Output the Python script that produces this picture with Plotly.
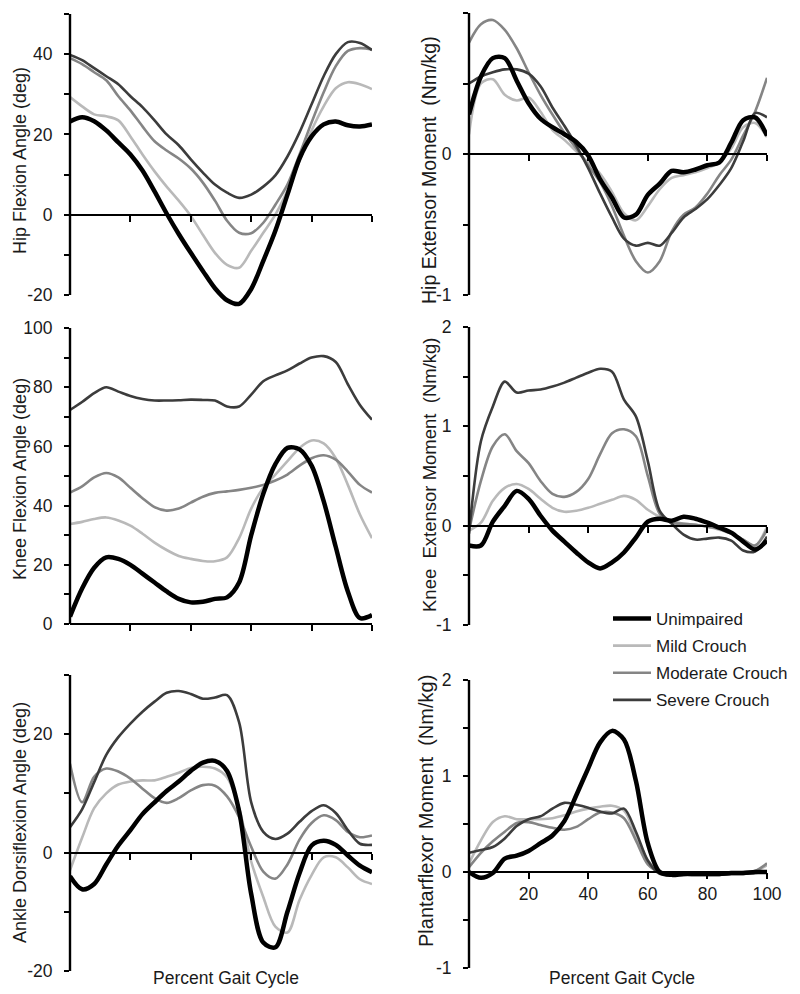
import plotly.graph_objects as go

# ---------------- data ----------------
PCT = list(range(0, 101, 4))  # percent gait cycle sample points

SERIES = ["Unimpaired", "Mild Crouch", "Moderate Crouch", "Severe Crouch"]

# Hip flexion angle (deg)
HIP_ANG_UNIMP = [23.2, 24.3, 23.3, 21, 18, 15, 11, 5.8, 0.3, -4.8, -9.5, -14, -18.3, -21.3,
                 -22.2, -18.5, -11.5, -4, 5, 14, 19.5, 22.5, 23.2, 22.3, 22, 22.5]
HIP_ANG_MILD = [29.3, 27, 25, 24.5, 23.5, 19.5, 15, 10.8, 7, 3.5, -0.3, -5, -9.5, -12.5,
                -13.2, -9, -4.5, 0, 6, 13.5, 21, 27, 31.5, 33, 32.5, 31.3]
HIP_ANG_MOD = [39, 37.5, 35.5, 33.5, 29.5, 26, 22, 18.3, 16, 14, 11.5, 8, 3.5, -1.5,
               -4.5, -4.6, -2, 2.5, 7.5, 15, 23, 30.5, 37, 40.8, 41.5, 41.2]
HIP_ANG_SEV = [39.8, 38.5, 36.5, 34.5, 32.5, 29.5, 26.8, 23.5, 20, 17.3, 13.8, 10.5, 7.5, 5.5,
               4.2, 5, 7, 9.8, 14.5, 20.5, 27.5, 34.5, 40, 43, 42.8, 41]

# Hip extensor moment (Nm/kg)
HIP_MOM_UNIMP = [0.28, 0.55, 0.68, 0.68, 0.52, 0.36, 0.25, 0.19, 0.14, 0.085, -0.01, -0.18, -0.31,
                 -0.45, -0.43, -0.29, -0.21, -0.12, -0.13, -0.11, -0.08, -0.06, 0.08, 0.24, 0.26, 0.13]
HIP_MOM_MILD = [0.14, 0.5, 0.53, 0.42, 0.38, 0.4, 0.3, 0.17, 0.1, 0.02, -0.06, -0.14, -0.27,
                -0.42, -0.47, -0.37, -0.25, -0.17, -0.15, -0.13, -0.1, -0.06, 0.04, 0.19, 0.22, 0.12]
HIP_MOM_MOD = [0.79, 0.92, 0.95, 0.88, 0.75, 0.58, 0.42, 0.28, 0.15, 0.04, -0.08, -0.2, -0.37,
               -0.58, -0.76, -0.84, -0.76, -0.55, -0.43, -0.38, -0.28, -0.15, -0.04, 0.13, 0.3, 0.54]
HIP_MOM_SEV = [0.5, 0.55, 0.58, 0.6, 0.6, 0.57, 0.48, 0.33, 0.2, 0.06, -0.1, -0.28, -0.45,
               -0.6, -0.65, -0.63, -0.65, -0.56, -0.45, -0.39, -0.32, -0.22, -0.1, 0.09, 0.29, 0.26]

# Knee flexion angle (deg)
KNEE_ANG_UNIMP = [2.5, 12, 19, 22.5, 22, 20, 17, 14, 11, 8.5, 7.3, 7.5, 8.5, 9, 14, 30, 44, 54,
                  59.5, 59, 53.5, 41.5, 26, 11, 2, 3]
KNEE_ANG_MILD = [33.8, 34.5, 35.5, 36, 35, 33.2, 30.5, 27.5, 25, 23, 22, 21.3, 21.2, 22.5, 29, 39,
                 46, 50.5, 55, 59.5, 62, 61, 56, 47, 37, 29]
KNEE_ANG_MOD = [44.4, 46.5, 49.5, 51, 49.5, 46, 42.5, 39.5, 38.3, 39, 41, 43, 44.3, 44.8, 45.3, 46,
                47, 48.5, 50.5, 53.5, 56, 57, 55.5, 51.5, 47, 44.4]
KNEE_ANG_SEV = [72.3, 75, 78, 80, 78.5, 77, 76, 75.5, 75.5, 75.6, 75.8, 75.7, 75.5, 73.5, 73.5, 77.5,
                82, 84, 85.7, 88, 90, 90.5, 88.5, 81, 74, 69]

# Knee extensor moment (Nm/kg)
KNEE_MOM_UNIMP = [-0.2, -0.2, 0.04, 0.2, 0.35, 0.27, 0.1, -0.05, -0.16, -0.27, -0.37, -0.43, -0.37,
                  -0.27, -0.12, 0.04, 0.07, 0.05, 0.09, 0.07, 0.03, -0.02, -0.07, -0.16, -0.24, -0.15]
KNEE_MOM_MILD = [-0.05, 0.03, 0.25, 0.38, 0.42, 0.37, 0.27, 0.18, 0.14, 0.15, 0.18, 0.22, 0.26,
                 0.3, 0.26, 0.16, 0.09, 0.05, 0.02, 0.01, -0.01, -0.04, -0.08, -0.14, -0.2, -0.01]
KNEE_MOM_MOD = [-0.05, 0.45, 0.8, 0.92, 0.75, 0.63, 0.45, 0.32, 0.29, 0.34, 0.47, 0.72, 0.93,
                0.97, 0.9, 0.5, 0.12, 0.03, 0.02, 0.01, -0.01, -0.03, -0.08, -0.14, -0.2, -0.04]
KNEE_MOM_SEV = [-0.08, 0.85, 1.2, 1.45, 1.34, 1.36, 1.37, 1.4, 1.44, 1.49, 1.54, 1.58, 1.55,
                1.27, 1.1, 0.65, 0.15, 0.02, -0.09, -0.14, -0.13, -0.12, -0.15, -0.25, -0.26, -0.11]

# Ankle dorsiflexion angle (deg)
ANK_ANG_UNIMP = [-4, -6.2, -5.3, -2, 1.2, 3.8, 6.5, 8.5, 10.4, 12, 13.8, 15.2, 15.5, 13.8, 7, -7,
                 -15.2, -16, -10, -3.5, 1.2, 2, 1.3, -0.5, -2.2, -3.3]
ANK_ANG_MILD = [-3, 2.5, 7.5, 10, 11.5, 12, 12.2, 12.2, 12.8, 13.5, 14.3, 14.5, 14.2, 12.7, 7.5,
                -1.5, -7.5, -12.5, -13.5, -8, -3.8, -0.8, -0.8, -2.5, -4.5, -5.3]
ANK_ANG_MOD = [15, 8.5, 12.8, 14.2, 13.7, 12.5, 10.8, 9.2, 8.4, 9.2, 10.5, 11.4, 11.3, 9.5, 6, 1,
               -3.2, -4.4, -2, 2.2, 5, 6.3, 5.5, 3.5, 2.6, 2.9]
ANK_ANG_SEV = [4.3, 7.3, 11.9, 16.5, 19.5, 21.8, 23.8, 25.5, 27, 27.3, 26.8, 26, 26.2, 26.6, 22,
               8.5, 3.5, 2.3, 3.2, 5.2, 7, 8, 6.7, 3.8, 1.5, 1.3]

# Plantarflexor moment (Nm/kg)
PF_MOM_UNIMP = [0, -0.06, -0.01, 0.14, 0.17, 0.22, 0.3, 0.38, 0.53, 0.8, 1.08, 1.35, 1.47, 1.38,
                0.95, 0.3, 0, -0.03, -0.02, -0.02, -0.02, -0.02, -0.01, -0.01, 0, 0]
PF_MOM_MILD = [0.09, 0.33, 0.52, 0.58, 0.55, 0.55, 0.55, 0.56, 0.59, 0.63, 0.66, 0.68, 0.69, 0.64,
               0.38, 0.12, 0.01, -0.02, -0.01, -0.01, -0.01, -0.01, -0.01, 0, 0.01, 0.07]
PF_MOM_MOD = [0.05, 0.2, 0.32, 0.42, 0.51, 0.52, 0.49, 0.46, 0.44, 0.47, 0.55, 0.62, 0.62, 0.56,
              0.33, 0.08, 0, -0.01, -0.01, -0.01, -0.01, -0.01, -0.01, -0.01, 0.01, 0.09]
PF_MOM_SEV = [0.2, 0.23, 0.26, 0.35, 0.48, 0.55, 0.58, 0.66, 0.72, 0.7, 0.67, 0.63, 0.61, 0.66,
              0.42, 0.12, -0.02, -0.03, -0.03, -0.03, -0.03, -0.03, -0.02, -0.02, -0.01, 0]

X_TICKS = [20, 40, 60, 80, 100]

# ---------------- styling / layout ----------------
W, H = 800, 994
OFF = 8  # page body margin offset of the plot div
FONT = "Arial, 'Liberation Sans', sans-serif"
TXT = "#1a1a1a"
STYLE = {
    "Unimpaired": dict(color="#000000", width=4.5, rank=1),
    "Mild Crouch": dict(color="#b9b9b9", width=2.6, rank=2),
    "Moderate Crouch": dict(color="#858585", width=2.6, rank=3),
    "Severe Crouch": dict(color="#3c3c3c", width=2.6, rank=4),
}
DRAW_ORDER = ["Mild Crouch", "Moderate Crouch", "Severe Crouch", "Unimpaired"]
NB = "\u00a0"


def px(x):
    return (x - OFF) / W


def py(y):
    return 1 - (y - OFF) / H


COLS = [(70, 372), (469, 767)]

PANELS = [
    dict(data=[HIP_ANG_UNIMP, HIP_ANG_MILD, HIP_ANG_MOD, HIP_ANG_SEV],
         spine=(-20, 50), view=(-24, 50), step=10, labels=[-20, 0, 20, 40],
         title="Hip Flexion Angle (deg)", tsize=18, col=0, rows=(14, 295), tpos=(20, 161)),
    dict(data=[HIP_MOM_UNIMP, HIP_MOM_MILD, HIP_MOM_MOD, HIP_MOM_SEV],
         spine=(-1, 1), view=(-1, 1), step=0.5, labels=[-1, 0, 1],
         title="Hip Extensor Moment" + NB + " (Nm/kg)", tsize=19.5, col=1, rows=(13, 295),
         tpos=(429, 170)),
    dict(data=[KNEE_ANG_UNIMP, KNEE_ANG_MILD, KNEE_ANG_MOD, KNEE_ANG_SEV],
         spine=(0, 100), view=(0, 100), step=10, labels=[0, 20, 40, 60, 80, 100],
         title="Knee Flexion Angle (deg)", tsize=18, col=0, rows=(328, 624), tpos=(20, 479)),
    dict(data=[KNEE_MOM_UNIMP, KNEE_MOM_MILD, KNEE_MOM_MOD, KNEE_MOM_SEV],
         spine=(-1, 2), view=(-1, 2), step=0.5, labels=[-1, 0, 1, 2],
         title="Knee" + NB + " Extensor Moment" + NB + " (Nm/kg)", tsize=18.5, col=1,
         rows=(327, 625), tpos=(429, 475)),
    dict(data=[ANK_ANG_UNIMP, ANK_ANG_MILD, ANK_ANG_MOD, ANK_ANG_SEV],
         spine=(-20, 30), view=(-20, 30), step=10, labels=[-20, 0, 20],
         title="Ankle Dorsiflexion Angle (deg)", tsize=18, col=0, rows=(675, 971), tpos=(20, 823)),
    dict(data=[PF_MOM_UNIMP, PF_MOM_MILD, PF_MOM_MOD, PF_MOM_SEV],
         spine=(-1, 2), view=(-1, 2), step=0.5, labels=[-1, 0, 1, 2],
         title="Plantarflexor Moment" + NB + " (Nm/kg)", tsize=20, col=1, rows=(680, 968),
         tpos=(426, 811)),
]

fig = go.Figure()
shapes = []
annotations = []

for i, p in enumerate(PANELS):
    k = i + 1
    xs = "" if k == 1 else str(k)
    s_lo, s_hi = p["spine"]
    v_lo, v_hi = p["view"]
    top_px, bot_px = p["rows"]
    ppu = (bot_px - top_px) / (s_hi - s_lo)
    dom_top_px = top_px - (v_hi - s_hi) * ppu
    dom_bot_px = bot_px + (s_lo - v_lo) * ppu
    ydom = [py(dom_bot_px), py(dom_top_px)]
    x0, x1 = COLS[p["col"]]
    xdom = [px(x0), px(x1)]
    zero_paper = ydom[0] + (0 - v_lo) / (v_hi - v_lo) * (ydom[1] - ydom[0])

    for name in DRAW_ORDER:
        j = SERIES.index(name)
        st = STYLE[name]
        fig.add_trace(go.Scatter(
            x=PCT, y=p["data"][j], mode="lines", name=name, legendgroup=name,
            line=dict(color=st["color"], width=st["width"], shape="spline", smoothing=0.9),
            legendrank=st["rank"], showlegend=(k == 1),
            xaxis="x" + xs, yaxis="y" + xs, hoverinfo="skip"))

    n = int(round((s_hi - s_lo) / p["step"]))
    tv = [s_lo + t * p["step"] for t in range(n + 1)]
    tt = [("%g" % v) if any(abs(v - L) < 1e-9 for L in p["labels"]) else "" for v in tv]

    fig.layout["xaxis" + xs] = dict(
        domain=xdom, range=[0, 100], anchor="free", position=zero_paper,
        showline=True, linecolor="black", linewidth=2, ticks="outside", ticklen=6,
        tickwidth=2, tickcolor="black", tickvals=X_TICKS, showticklabels=(k == 6),
        tickfont=dict(family=FONT, size=17.5, color=TXT), showgrid=False, zeroline=False,
        fixedrange=True, automargin=False)
    fig.layout["yaxis" + xs] = dict(
        domain=ydom, range=[v_lo, v_hi], anchor="x" + xs, showline=False,
        ticks="outside", ticklen=5, tickwidth=2, tickcolor="black",
        tickvals=tv, ticktext=tt, tickfont=dict(family=FONT, size=17.5, color=TXT),
        ticklabelstandoff=8, showgrid=False, zeroline=False, fixedrange=True, automargin=False)

    sp_lo = ydom[0] + (s_lo - v_lo) / (v_hi - v_lo) * (ydom[1] - ydom[0])
    sp_hi = ydom[0] + (s_hi - v_lo) / (v_hi - v_lo) * (ydom[1] - ydom[0])
    shapes.append(dict(type="line", xref="paper", yref="paper", x0=xdom[0], x1=xdom[0],
                       y0=sp_lo, y1=sp_hi, line=dict(color="black", width=2.4)))

    tx, ty = p["tpos"]
    annotations.append(dict(text=p["title"], xref="paper", yref="paper", x=px(tx), y=py(ty),
                            xanchor="center", yanchor="middle", textangle=-90, showarrow=False,
                            borderpad=0, font=dict(family=FONT, size=p["tsize"], color=TXT)))

for cx in (226, 622):
    annotations.append(dict(text="Percent Gait Cycle", xref="paper", yref="paper", x=px(cx),
                            y=py(978), xanchor="center", yanchor="middle", showarrow=False,
                            font=dict(family=FONT, size=17.5, color=TXT)))

fig.update_layout(
    width=W, height=H, margin=dict(l=0, r=0, t=0, b=0, pad=0, autoexpand=False),
    paper_bgcolor="white", plot_bgcolor="rgba(0,0,0,0)",
    shapes=shapes, annotations=annotations,
    legend=dict(x=px(608), y=py(601), xanchor="left", yanchor="top",
                font=dict(family=FONT, size=17, color=TXT), bgcolor="rgba(0,0,0,0)",
                tracegroupgap=2, traceorder="grouped", itemwidth=38),
    showlegend=True,
)

fig.write_html("out.html")
